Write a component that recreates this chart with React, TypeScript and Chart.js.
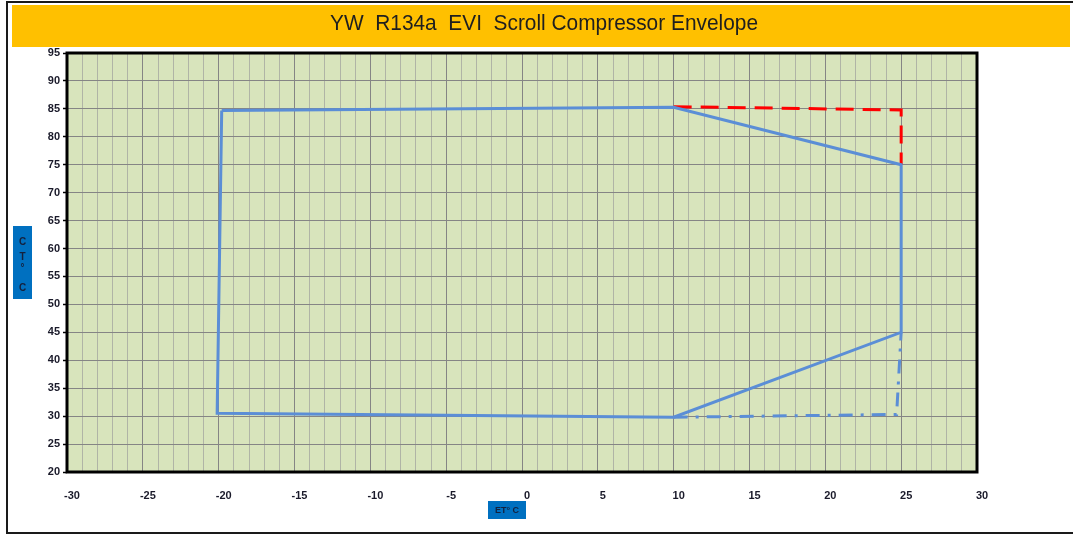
import { useEffect, useRef } from 'react';
import { Chart, registerables } from 'chart.js';

Chart.register(...registerables);

const chartTitle = 'YW  R134a  EVI  Scroll Compressor Envelope';
const xAxisTitle = 'ET° C';
const yAxisTitleChars = ['C', 'T', '°', 'C'];

// Operating envelope (solid blue)
const envelopeX = [-19.8, 10, 25, 25, 10, -20.1, -19.8];
const envelopeY = [84.7, 85.3, 75, 45, 29.8, 30.5, 84.7];

// Extension, red dashed (top right)
const redExtX = [10, 25, 25];
const redExtY = [85.4, 84.8, 75];

// Extension, blue dash-dot (bottom right)
const dashDotX = [10, 24.7, 25];
const dashDotY = [29.8, 30.3, 45];

const X_MIN = -30;
const X_MAX = 30;
const Y_MIN = 20;
const Y_MAX = 95;

const BLUE = '#5B8ED6';
const RED = '#FF0000';
const PLOT_BG = '#D8E4BC';
const MAJOR_GRID = '#858585';
const MINOR_GRID = '#B0B4A6';
const TICK_COLOR = '#1A1A2A';

const toPoints = (xs: number[], ys: number[]) => xs.map((x, i) => ({ x, y: ys[i] }));

const decorPlugin = {
  id: 'decor',
  beforeDraw(chart: any) {
    const { ctx, chartArea } = chart;
    ctx.save();
    ctx.fillStyle = '#FFFFFF';
    ctx.fillRect(0, 0, chart.width, chart.height);

    // outer frame
    ctx.strokeStyle = '#1A1A1A';
    ctx.lineWidth = 2;
    ctx.strokeRect(7, 2, 1080, 531);

    // title banner
    ctx.fillStyle = '#FFC000';
    ctx.fillRect(12, 5, 1058, 42);
    ctx.fillStyle = '#1F1F1F';
    ctx.font = '22px "Liberation Sans", Arial, sans-serif';
    ctx.textBaseline = 'middle';
    ctx.textAlign = 'center';
    const w = ctx.measureText(chartTitle).width;
    const sx = 428 / w;
    ctx.save();
    ctx.translate(544, 24);
    ctx.scale(sx, 1);
    ctx.fillText(chartTitle, 0, 0);
    ctx.restore();

    // plot background
    ctx.fillStyle = PLOT_BG;
    ctx.fillRect(chartArea.left, chartArea.top, chartArea.right - chartArea.left, chartArea.bottom - chartArea.top);

    // y axis title box
    ctx.fillStyle = '#0070C0';
    ctx.fillRect(13, 226, 19, 73);
    ctx.fillStyle = '#14213D';
    ctx.font = 'bold 10px "Liberation Sans", Arial, sans-serif';
    const ys = [242, 257, 268, 288];
    yAxisTitleChars.forEach((c, i) => ctx.fillText(c, 22.5, ys[i]));

    // x axis title box
    ctx.fillStyle = '#0070C0';
    ctx.fillRect(488, 501, 38, 18);
    ctx.fillStyle = '#14213D';
    ctx.font = 'bold 9px "Liberation Sans", Arial, sans-serif';
    ctx.fillText(xAxisTitle, 507, 510.5);
    ctx.restore();
  },
  afterDraw(chart: any) {
    const { ctx, chartArea } = chart;
    ctx.save();
    ctx.strokeStyle = '#000000';
    ctx.lineWidth = 3;
    ctx.strokeRect(chartArea.left, chartArea.top, chartArea.right - chartArea.left, chartArea.bottom - chartArea.top);
    ctx.restore();
  },
};

export default function App() {
  const ref = useRef<HTMLCanvasElement | null>(null);

  useEffect(() => {
    if (!ref.current) return;
    const tickFont = { family: '"Liberation Sans", Arial, sans-serif', size: 11, weight: 'bold' as const };
    const chart = new Chart(ref.current, {
      type: 'line',
      data: {
        datasets: [
          {
            label: 'Envelope',
            data: toPoints(envelopeX, envelopeY),
            borderColor: BLUE,
            borderWidth: 3,
            pointRadius: 0,
            fill: false,
            tension: 0,
          },
          {
            label: 'Extension (red)',
            data: toPoints(redExtX, redExtY),
            borderColor: RED,
            borderWidth: 3,
            borderDash: [18, 9],
            pointRadius: 0,
            fill: false,
            tension: 0,
          },
          {
            label: 'Extension (dash-dot)',
            data: toPoints(dashDotX, dashDotY),
            borderColor: BLUE,
            borderWidth: 3,
            borderDash: [14, 8, 3, 8],
            pointRadius: 0,
            fill: false,
            tension: 0,
          },
        ],
      },
      options: {
        responsive: false,
        animation: false,
        layout: { padding: { top: 53, left: 0, right: 96, bottom: 0 } },
        plugins: {
          legend: { display: false },
          tooltip: { enabled: false },
          title: { display: false },
        },
        scales: {
          x: {
            type: 'linear',
            min: X_MIN,
            max: X_MAX,
            afterFit: (s: any) => {
              s.height = 63;
            },
            ticks: {
              stepSize: 1,
              autoSkip: false,
              maxRotation: 0,
              padding: 17,
              labelOffset: 5,
              font: tickFont,
              color: TICK_COLOR,
              callback: (v: any) => (Number(v) % 5 === 0 ? String(v) : ''),
            },
            grid: {
              color: (c: any) => (c.tick && c.tick.value % 5 === 0 ? MAJOR_GRID : MINOR_GRID),
              lineWidth: 1,
              drawTicks: false,
            },
            border: { display: false },
          },
          y: {
            type: 'linear',
            min: Y_MIN,
            max: Y_MAX,
            afterFit: (s: any) => {
              s.width = 67;
            },
            ticks: {
              stepSize: 5,
              padding: 3,
              font: tickFont,
              color: TICK_COLOR,
            },
            grid: {
              color: MAJOR_GRID,
              lineWidth: 1,
              drawTicks: true,
              tickLength: 4,
              tickColor: '#000000',
              tickWidth: 1.5,
            },
            border: { display: false },
          },
        },
      },
      plugins: [decorPlugin],
    });
    return () => chart.destroy();
  }, []);

  return (
    <div style={{ position: 'absolute', left: 0, top: 0, width: 1073, height: 535, background: '#fff' }}>
      <canvas ref={ref} width={1073} height={535} style={{ display: 'block', width: 1073, height: 535 }} />
    </div>
  );
}
